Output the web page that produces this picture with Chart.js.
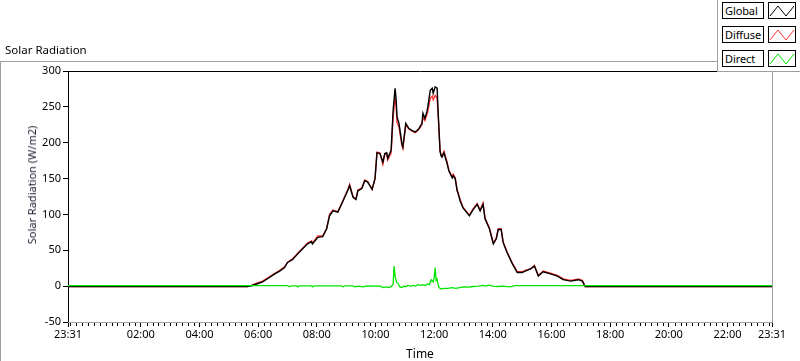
<!DOCTYPE html>
<html><head><meta charset="utf-8">
<script src="https://cdn.jsdelivr.net/npm/chart.js@4/dist/chart.umd.min.js"></script>
<style>
html,body{margin:0;padding:0;background:#fff;overflow:hidden;}
#wrap{position:relative;width:800px;height:361px;font-family:"Noto Sans",sans-serif;}
#c{position:absolute;left:0;top:0;}
.t{position:absolute;white-space:nowrap;color:#000;font-size:11px;line-height:14px;}
#legend{position:absolute;left:717px;top:0;width:83px;height:72px;background:#fff;border-left:1px solid #a0a0a0;border-bottom:1px solid #a0a0a0;box-sizing:border-box;}
.lbl{position:absolute;left:4px;width:42px;height:17px;border:1px solid #000;box-sizing:border-box;font-size:11px;line-height:15px;padding-left:2px;color:#000;background:#fff;white-space:nowrap;overflow:hidden;letter-spacing:-0.1px;}
.sw{position:absolute;left:50px;width:28px;height:17px;border:1px solid #000;box-sizing:border-box;background:#fff;}
.sw svg{position:absolute;left:0;top:0;}
</style></head><body>
<div id="wrap">
<canvas id="c" width="800" height="361"></canvas>
<div class="t" style="left:5px;top:43px;font-size:11.5px;">Solar Radiation</div>
<div class="t" style="left:32px;top:185px;transform:translate(-50%,-50%) rotate(-90deg);color:#1a1a30;">Solar Radiation (W/m2)</div>
<div class="t" style="left:420px;top:354px;transform:translate(-50%,-50%);font-size:12px;">Time</div>
<div id="legend"></div>
</div>
<script>
const START = "23:31";
const seriesNames = ["Global", "Diffuse", "Direct"];
const seriesColors = ["#000000", "#ff3333", "#00e600"];

const dayTimes = ["23:31","05:38","05:46","05:57","06:09","06:23","06:34","06:44","06:54","07:00","07:10","07:21","07:31","07:41","07:49","07:51","08:02","08:12","08:20","08:26","08:33","08:43","08:51","08:57","09:03","09:07","09:14","09:20","09:24","09:32","09:38","09:44","09:53","09:59","10:03","10:09","10:15","10:19","10:23","10:25","10:32","10:36","10:40","10:42","10:44","10:48","10:54","10:56","11:02","11:08","11:15","11:21","11:25","11:29","11:35","11:37","11:41","11:45","11:47","11:52","11:56","11:58","12:02","12:06","12:08","12:12","12:14","12:16","12:20","12:26","12:30","12:37","12:39","12:43","12:47","12:49","12:53","12:59","13:12","13:20","13:28","13:34","13:40","13:44","13:53","14:01","14:07","14:11","14:17","14:21","14:29","14:40","14:50","15:00","15:06","15:17","15:25","15:33","15:43","15:58","16:12","16:24","16:39","16:55","17:03","17:09","23:31"];

const globalValues = [-0.5,-0.5,0.5,3,6,12,17,21,26,33,37,45,52,59,62,59,68,69,80,98,105,103,115,124,133,140,124,121,133,136,147,145,135,150,186,185,173,185,186,178,190,245,276,262,236,227,199,194,227,220,217,215,217,220,227,241,234,243,250,273,276,269,278,276,245,189,182,180,186,172,161,151,154,150,133,129,119,109,98,107,114,105,114,94,80,59,66,79,79,61,47,31,19,19,21,24,28,14,20,17,14,9,7,9,7,-0.5,-0.5];

const diffuseValues = [-0.5,-0.5,1,4,7,13,18,22,27,33,38,46,53,60,63,60,70,70,80,100,106,104,116,125,134,142,125,121,134,137,148,146,135,150,187,186,170,184,184,176,186,236,262,255,228,222,196,192,225,219,216,214,216,219,225,236,231,239,244,262,265,260,266,262,240,188,183,181,188,174,162,152,156,151,134,130,121,110,99,108,115,106,116,95,81,60,67,80,80,62,48,32,20,20,22,24,29,15,21,18,15,10,8,10,8,-0.5,-0.5];

const directTimes = ["23:31","07:00","07:04","07:08","07:19","07:21","07:24","07:49","07:51","07:54","08:50","08:54","08:58","09:14","09:17","09:25","09:35","09:42","10:10","10:15","10:22","10:28","10:33","10:36","10:38","10:40","10:43","10:46","10:50","10:54","10:58","11:02","11:06","11:12","11:18","11:22","11:27","11:32","11:37","11:42","11:46","11:50","11:54","11:58","12:00","12:02","12:04","12:06","12:08","12:10","12:14","12:20","12:28","12:36","12:44","12:52","13:00","13:10","13:20","13:30","13:40","13:46","13:52","14:00","14:10","14:20","14:35","14:45","23:31"];
const directValues = [0.8,0.8,-1,0.5,0.5,-1,0.5,0.5,-1,0.5,0.5,-1,0.5,0.5,-1,0,-1,0.5,0,-2,-1,-2,0,3,28,14,6,4,-1,-2,0,-1,1,0,1,0,2,1,2,1,3,2,9,6,12,26,8,10,2,-2,-4,-3,-3,-2,-3,-2,-1,-1.5,-0.5,0,1,0,1.5,0,-0.5,0,-1,0.8,0.8];

const xTickLabels = ["23:31","02:00","04:00","06:00","08:00","10:00","12:00","14:00","16:00","18:00","20:00","22:00","23:31"];
const yTickValues = [-50,0,50,100,150,200,250,300];

function toMin(s){ const p = s.split(':').map(Number); return p[0]*60 + p[1]; }
const START_MIN = toMin(START);
function toOffsets(list){
  let prev = -1;
  return list.map(s => {
    let v = (toMin(s) - START_MIN + 1440) % 1440;
    while (v < prev) v += 1440;
    prev = v;
    return v;
  });
}
function pts(times, vals){ const o = toOffsets(times); return o.map((x,i)=>({x:x, y:vals[i]})); }

const xTickOffsets = toOffsets(xTickLabels);
const minorTicks = [];
for (let i = 0; i < xTickOffsets.length - 1; i++) {
  const a = xTickOffsets[i], b = xTickOffsets[i+1];
  const ref = (i === 0) ? b : a;
  for (let m = ref - Math.floor((ref - a)/12)*12; m < b; m += 12) {
    if (m > a && m < b) minorTicks.push(m);
  }
}

const lg = document.getElementById('legend');
const rowTops = [2, 26, 50];
seriesNames.forEach((n,i)=>{
  const l = document.createElement('div'); l.className='lbl'; l.style.top=rowTops[i]+'px'; l.textContent=n; lg.appendChild(l);
  const s = document.createElement('div'); s.className='sw'; s.style.top=rowTops[i]+'px';
  s.innerHTML = '<svg width="26" height="15"><polyline points="1,13 9,3 17,13 25,3" fill="none" stroke="'+seriesColors[i]+'" stroke-width="1"/></svg>';
  lg.appendChild(s);
});

const framePlugin = {
  id: 'frame',
  beforeDatasetsDraw(chart){
    const {ctx, chartArea:{left,right,top,bottom}} = chart;
    const xs = chart.scales.x;
    ctx.save();
    ctx.lineWidth = 1;
    ctx.strokeStyle = '#a0a0a0';
    ctx.beginPath(); ctx.moveTo(0, 61.5); ctx.lineTo(720, 61.5); ctx.moveTo(0.5, 61.5); ctx.lineTo(0.5, 361); ctx.stroke();
    ctx.strokeStyle = '#a0a0a0';
    ctx.beginPath(); ctx.moveTo(right+0.5, top); ctx.lineTo(right+0.5, bottom+0.5); ctx.lineTo(left, bottom+0.5); ctx.stroke();
    ctx.strokeStyle = '#000';
    ctx.beginPath(); ctx.moveTo(left, top+0.5); ctx.lineTo(right+1, top+0.5); ctx.stroke();
    ctx.strokeStyle = '#000';
    ctx.beginPath();
    minorTicks.forEach(m => { const px = Math.round(xs.getPixelForValue(m)) + 0.5; ctx.moveTo(px, bottom+1); ctx.lineTo(px, bottom+4); });
    ctx.stroke();
    ctx.restore();
  }
};

const tickFont = {family: '"Noto Sans", sans-serif', size: 11};
new Chart(document.getElementById('c'), {
  type: 'line',
  data: {
    datasets: [
      {label: seriesNames[2], data: pts(directTimes, directValues), borderColor: seriesColors[2], borderWidth: 1.3},
      {label: seriesNames[0], data: pts(dayTimes, globalValues), borderColor: seriesColors[0], borderWidth: 1.4},
      {label: seriesNames[1], data: pts(dayTimes, diffuseValues), borderColor: seriesColors[1], borderWidth: 1.4}
    ]
  },
  options: {
    responsive: false, animation: false, devicePixelRatio: 1,
    elements: {point: {radius: 0, hoverRadius: 0}, line: {tension: 0, fill: false}},
    layout: {padding: {left: 0, top: 71, right: 28, bottom: 0}},
    plugins: {legend: {display: false}, tooltip: {enabled: false}, title: {display: false}},
    scales: {
      x: {
        type: 'linear', min: 0, max: 1440,
        afterBuildTicks: s => { s.ticks = xTickOffsets.map(v => ({value: v})); },
        afterFit: s => { s.height = 39; },
        ticks: {autoSkip: false, maxRotation: 0, minRotation: 0, padding: 1, color: '#000', font: tickFont,
          callback: (v, i) => xTickLabels[i]},
        grid: {drawOnChartArea: false, drawTicks: true, tickLength: 5, color: '#000'},
        border: {display: false}
      },
      y: {
        type: 'linear', min: -50, max: 300,
        afterBuildTicks: s => { s.ticks = yTickValues.map(v => ({value: v})); },
        afterFit: s => { s.width = 68; },
        ticks: {padding: 2, color: '#000', font: tickFont},
        grid: {drawOnChartArea: false, drawTicks: true, tickLength: 5, color: '#000'},
        border: {display: true, color: '#000'}
      }
    }
  },
  plugins: [framePlugin]
});
</script>
</body></html>
